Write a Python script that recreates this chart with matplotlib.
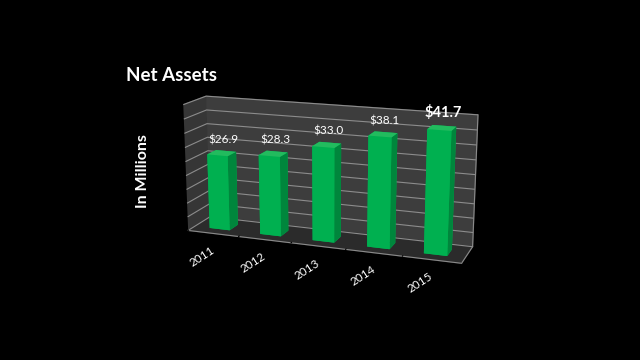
import matplotlib
matplotlib.use("Agg")
import matplotlib.pyplot as plt
import numpy as np
from mpl_toolkits.mplot3d import proj3d

years = ["2011", "2012", "2013", "2014", "2015"]
values = [26.9, 28.3, 33.0, 38.1, 41.7]
labels = ["$26.9", "$28.3", "$33.0", "$38.1", "$41.7"]
z_ticks = list(range(0, 50, 5))

plt.rcParams['font.family'] = ['Lato', 'DejaVu Sans']

fig = plt.figure(figsize=(6.4, 3.6), dpi=100, facecolor='black')
ax = fig.add_axes([0.078, 0.0, 0.85, 1.0], projection='3d')
ax.set_facecolor('black')
ax.set_proj_type('persp', focal_length=0.5)
ax.view_init(elev=15, azim=-70)
ax.set_box_aspect((6.3, 1.1, 2.9), zoom=0.87)
for t in (ax.title, ax._left_title, ax._right_title):
    t.set_visible(False)

x = np.arange(len(years))
bw, bd = 0.4, 0.4
front, side, top = '#00b050', '#00863c', '#22bb5e'
face_colors = []
for _ in years:
    face_colors += [front, top, front, front, front, side]
ax.bar3d(x - bw / 2, np.full(len(x), 0.5 - bd / 2), np.zeros(len(x)),
         bw, bd, values, color=face_colors, shade=False, zsort='average')

ax.set_xlim(-0.5, len(years) - 0.5)
ax.set_ylim(0, 1)
ax.set_zlim(0, 45)
ax.set_xticks(np.arange(len(years) + 1) - 0.5)
ax.set_xticklabels([])
ax.set_yticks([])
ax.set_zticks(z_ticks)
ax.set_zticklabels([])
for a in (ax.xaxis, ax.yaxis, ax.zaxis):
    a.label.set_visible(False)
    a.offsetText.set_visible(False)

ax.xaxis.set_pane_color('#363636')
ax.yaxis.set_pane_color('#3d3d3d')
ax.zaxis.set_pane_color('#2b2b2b')
for a in (ax.xaxis, ax.yaxis, ax.zaxis):
    a.line.set_color('#8a8a8a')
    a.line.set_linewidth(0.8)
    a._axinfo['tick']['color'] = '#8a8a8a'
    a._axinfo['tick']['linewidth'] = {True: 0.8, False: 0.5}
    a._axinfo['tick']['inward_factor'] = 0.0
    a._axinfo['tick']['outward_factor'] = 0.3
ax.zaxis._axinfo['tick']['outward_factor'] = 0.0
for a in (ax.xaxis, ax.yaxis):
    a._axinfo['grid']['linewidth'] = 0
ax.zaxis._axinfo['grid']['color'] = '#8c8c8c'
ax.zaxis._axinfo['grid']['linewidth'] = 0.8
ax.zaxis._axinfo['grid']['linestyle'] = '-'

M = ax.get_proj()
for i, (v, s) in enumerate(zip(values, labels)):
    last = i == len(values) - 1
    px, py, _ = proj3d.proj_transform(i, 0.6, v, M)
    ax.annotate(s, xy=(px, py), xycoords='data', xytext=(0, 5),
                textcoords='offset points', color='white', ha='center', va='bottom',
                fontsize=10.5 if last else 8.5,
                fontweight='bold' if last else 'normal', annotation_clip=False)

for i, yr in enumerate(years):
    px, py, _ = proj3d.proj_transform(i, 0.0, 0.0, M)
    ax.annotate(yr, xy=(px, py), xycoords='data', xytext=(-2, -8),
                textcoords='offset points', color='white', ha='right', va='top',
                rotation=33, rotation_mode='anchor', fontsize=8.5,
                annotation_clip=False)

fig.text(0.197, 1 - 81 / 360, "Net Assets", color='white', fontsize=13.5,
         fontweight='bold', ha='left', va='baseline')
fig.text(0.224, 1 - 171.5 / 360, "In Millions", color='white', fontsize=11.5,
         fontweight='bold', rotation=90, ha='center', va='center')

fig.savefig('out.png', dpi=100, facecolor='black')
